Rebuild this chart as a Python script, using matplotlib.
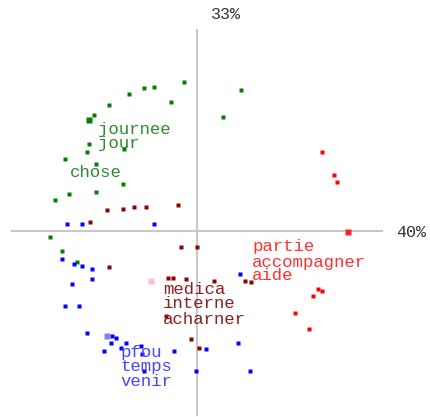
import matplotlib
matplotlib.use("Agg")
import matplotlib.pyplot as plt

# coordinates on the two factors (origin = axis crossing)
green_x = [-13, -43, -53, -68, -26, -88, -103, -108, -110, -73, -132, -101, -74, -128, -101, -142, -147, 44, 26, -135, -120]
green_y = [149, 144, 143, 137, 129, 126, 116, 87, 79, 82, 72, 67, 47, 37, 39, 31, -6, 141, 114, -20, -31]
darkred_x = [-90, -74, -63, -51, -19, -107, -16, 0, -88, -29, -24, -11, 17, -31, -6, 2, 48, 54]
darkred_y = [21, 22, 24, 24, 26, 9, -16, -16, -36, -47, -47, -48, -50, -85, -108, -117, -50, -51]
blue_x = [-130, -115, -43, -135, -123, -115, -105, -105, -125, -132, -118, -110, -85, -81, -86, -71, -93, -76, -56, -55, -53, -23, -1, 9, 43, 41, 53]
blue_y = [7, 7, 7, -28, -33, -35, -38, -48, -53, -75, -75, -102, -105, -107, -112, -112, -120, -117, -115, -123, -140, -120, -140, -118, -43, -112, -140]
red_x = [125, 137, 140, 121, 125, 116, 98, 112]
red_y = [79, 56, 49, -58, -60, -65, -82, -98]

# class centres
centre_x = [-108, -46, -90, 151]
centre_y = [111, -50, -105, -1]
centre_col = ["#008000", "#ffc0c8", "#8080ff", "#ff2020"]

# words
green_words = ["journee", "jour", "chose"]
green_wx = [-99, -99, -127]
green_wy = [102, 88, 59]
red_words = ["partie", "accompagner", "aide"]
red_wx = [55, 55, 55]
red_wy = [-15, -31, -45]
darkred_words = ["medica", "interne", "acharner"]
darkred_wx = [-34, -34, -34]
darkred_wy = [-58, -73, -89]
blue_words = ["pfou", "temps", "venir"]
blue_wx = [-77, -77, -77]
blue_wy = [-121, -135, -150]

fig = plt.figure(figsize=(4.3, 4.17), dpi=100)
ax = fig.add_axes([0, 0, 1, 1])
ax.set_xlim(-197, 233)
ax.set_ylim(-186, 231)
ax.axis("off")

ax.plot([-185, 185], [0, 0], color="#c8c8c8", lw=1.5, zorder=1)
ax.plot([0, 0], [-184, 201], color="#c8c8c8", lw=1.5, zorder=1)

ms = 2.2
ax.plot(green_x, green_y, "s", color="#008000", ms=ms, mec="none")
ax.plot(darkred_x, darkred_y, "s", color="#8b0000", ms=ms, mec="none")
ax.plot(blue_x, blue_y, "s", color="#0000ff", ms=ms, mec="none")
ax.plot(red_x, red_y, "s", color="#ff0000", ms=ms, mec="none")
for cx, cy, c in zip(centre_x, centre_y, centre_col):
    ax.plot(cx, cy, "s", color=c, ms=5, mec="none")

font = dict(family="Liberation Mono", fontsize=12.5, va="center", ha="left")
for words, wx, wy, col in [(green_words, green_wx, green_wy, "#2e8b2e"),
                           (red_words, red_wx, red_wy, "#ff3030"),
                           (darkred_words, darkred_wx, darkred_wy, "#8b2020"),
                           (blue_words, blue_wx, blue_wy, "#4545ff")]:
    for w, x, y in zip(words, wx, wy):
        ax.text(x, y, w, color=col, **font)

ax.text(29, 217, "33%", color="#333333", family="Liberation Mono", fontsize=12, ha="center", va="center")
ax.text(214, -1, "40%", color="#333333", family="Liberation Mono", fontsize=12, ha="center", va="center")

fig.savefig("out.png", dpi=100)
